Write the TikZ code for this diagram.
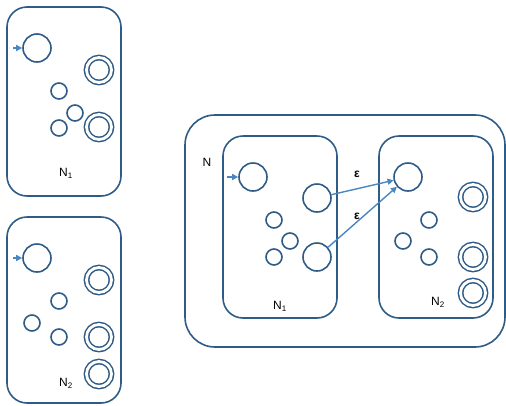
\documentclass[tikz,border=0pt]{standalone}
\usepackage{fontspec}
\setmainfont{Liberation Sans}
\usetikzlibrary{arrows.meta}
\definecolor{edge}{HTML}{2F5C86}
\definecolor{trans}{HTML}{4A86C4}
\tikzset{
  box/.style={draw=edge, line width=1.6pt, rounded corners=20pt},
  st/.style={circle, draw=edge, line width=1.6pt, minimum size=28pt, inner sep=0pt},
  sm/.style={circle, draw=edge, line width=1.6pt, minimum size=16pt, inner sep=0pt},
  acc/.style={circle, draw=edge, line width=1.5pt, minimum size=25pt, inner sep=0pt,
    double=white, double distance=2.8pt},
  tr/.style={draw=trans, line width=1.4pt, -{Triangle[length=6pt,width=6pt]}},
  lbl/.style={font=\fontsize{12}{14}\selectfont}
}
\begin{document}
\begin{tikzpicture}[x=1pt,y=-1pt]
\useasboundingbox (0,0) rectangle (506,405);

% Automaton N1 on its own
\draw[box] (7,7) rectangle (121,196);
\node[st] (a0) at (37,48) {};
\coordinate (a0in) at (13,48);
\draw[tr] (a0in) -- (a0);
\node[sm] (a1) at (59,91) {};
\node[sm] (a2) at (75,113) {};
\node[sm] (a3) at (59,128) {};
\node[acc] (a4) at (99,70) {};
\node[acc] (a5) at (99,127) {};
\node[lbl] (la) at (66,173) {N\textsubscript{1}};

% Automaton N2 on its own
\draw[box] (7,217) rectangle (121,403);
\node[st] (b0) at (37,258) {};
\coordinate (b0in) at (13,258);
\draw[tr] (b0in) -- (b0);
\node[sm] (b1) at (59,301) {};
\node[sm] (b2) at (32,323) {};
\node[sm] (b3) at (59,337) {};
\node[acc] (b4) at (99,280) {};
\node[acc] (b5) at (99,337) {};
\node[acc] (b6) at (99,374) {};
\node[lbl] (lb) at (66,383) {N\textsubscript{2}};

% Combined automaton N
\draw[box, rounded corners=30pt] (185,115) rectangle (505,347);
\node[lbl] (ln) at (207,162) {N};

\draw[box] (223,136) rectangle (337,318);
\node[st] (c0) at (253,177) {};
\coordinate (c0in) at (227,177);
\draw[tr] (c0in) -- (c0);
\node[st] (c4) at (317,198) {};
\node[st] (c5) at (317,257) {};
\node[sm] (c1) at (274,220) {};
\node[sm] (c2) at (290,241) {};
\node[sm] (c3) at (274,257) {};
\node[lbl] (lc) at (280,306) {N\textsubscript{1}};

\draw[box] (379,136) rectangle (493,318);
\node[st] (d0) at (408,177) {};
\node[sm] (d1) at (429,220) {};
\node[sm] (d2) at (403,241) {};
\node[sm] (d3) at (429,257) {};
\node[acc] (d4) at (473,197) {};
\node[acc] (d5) at (473,257) {};
\node[acc] (d6) at (473,293) {};
\node[lbl] (ld) at (438,302) {N\textsubscript{2}};

% epsilon moves from the old accepting states to the start of N2
\draw[tr] (c4) -- (d0);
\draw[tr] (c5) -- (d0);
\node[lbl] (e1) at (357,174) {\textbf{ε}};
\node[lbl] (e2) at (357,216) {\textbf{ε}};
\end{tikzpicture}
\end{document}
